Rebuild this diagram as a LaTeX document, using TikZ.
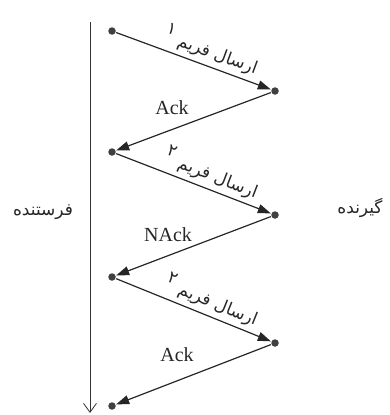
\documentclass[tikz,border=0pt]{standalone}
\usepackage{fontspec}
\setmainfont{Liberation Serif}
\newfontfamily\arabicfont[Script=Arabic]{DejaVu Sans}
\TeXXeTstate=1
\usetikzlibrary{arrows.meta}
\begin{document}
\begin{tikzpicture}[x=1pt,y=-1pt,
  dot/.style={circle,fill=black!75,inner sep=0pt,minimum size=7.5pt},
  msg/.style={-{Triangle[length=13pt,width=9pt]},line width=1.2pt,black!85,shorten >=0.5pt,shorten <=0.5pt},
  lbl/.style={font=\fontsize{20}{22}\selectfont,text=black!85},
  fa/.style={font=\arabicfont\fontsize{17}{19}\selectfont,text=black!85},
  famsg/.style={fa,sloped,above=3pt,pos=0.58,inner sep=1pt},
]
\useasboundingbox (0,0) rectangle (390,415);
\coordinate (top) at (90,22);
\coordinate (bot) at (90,413);
\draw[-{Straight Barb[length=9pt,width=13pt]},line width=0.8pt,black!80] (top) -- (bot);

\node[dot] (l1) at (112,31) {};
\node[dot] (r1) at (275,91) {};
\node[dot] (l2) at (112,152) {};
\node[dot] (r2) at (275,215) {};
\node[dot] (l3) at (112,277) {};
\node[dot] (r3) at (275,343) {};
\node[dot] (l4) at (112,406) {};

\draw[msg] (l1) -- node[famsg] (m1) {\beginR ارسال فریم \raisebox{8pt}{۱}\endR} (r1);
\draw[msg] (r1) -- (l2);
\draw[msg] (l2) -- node[famsg] (m2) {\beginR ارسال فریم \raisebox{8pt}{۲}\endR} (r2);
\draw[msg] (r2) -- (l3);
\draw[msg] (l3) -- node[famsg] (m3) {\beginR ارسال فریم \raisebox{8pt}{۲}\endR} (r3);
\draw[msg] (r3) -- (l4);

\node[lbl] (a1) at (172,108) {Ack};
\node[lbl] (a2) at (168,235) {NAck};
\node[lbl] (a3) at (177,355) {Ack};

\node[fa] (recv) at (360,208) {\beginR گیرنده\endR};
\node[fa] (send) at (43,212) {\beginR فرستنده\endR};
\end{tikzpicture}
\end{document}
